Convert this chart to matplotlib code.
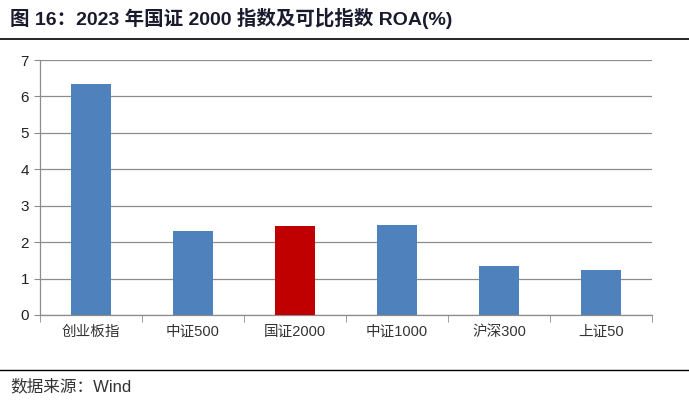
import matplotlib
matplotlib.use("Agg")
import matplotlib.pyplot as plt
from matplotlib.lines import Line2D
import numpy as np

categories = ["创业板指", "中证500", "国证2000", "中证1000", "沪深300", "上证50"]
roa = [6.35, 2.31, 2.45, 2.47, 1.35, 1.24]
colors = ["#4F81BD", "#4F81BD", "#C00000", "#4F81BD", "#4F81BD", "#4F81BD"]
yticks = [0, 1, 2, 3, 4, 5, 6, 7]
title = "图 16：2023 年国证 2000 指数及可比指数 ROA(%)"
source = "数据来源：Wind"

mixed = ["Liberation Sans", "Noto Sans CJK SC", "DejaVu Sans"]
fig = plt.figure(figsize=(6.89, 4.01), dpi=100)
ax = fig.add_axes([40/689, 86/401, 612/689, 255/401])

x = np.arange(len(categories))
ax.bar(x, roa, width=0.4, color=colors, zorder=3)
ax.set_xlim(-0.5, len(categories) - 0.5)
ax.set_ylim(0, 7)
ax.set_yticks(yticks)
ax.set_yticklabels([str(v) for v in yticks], fontsize=11, family="Liberation Sans", color="#222222")
ax.yaxis.grid(True, color="#8c8c8c", linewidth=0.9, zorder=0)
ax.tick_params(axis="y", length=4, color="#8c8c8c", pad=4)

ax.set_xticks(x)
ax.set_xticklabels(categories, fontsize=10.5, family=mixed, color="#333333")
ax.tick_params(axis="x", length=0, pad=7)
ax.set_xticks(np.arange(-0.5, len(categories)), minor=True)
ax.tick_params(axis="x", which="minor", length=5, color="#8c8c8c")

for s in ["top", "right"]:
    ax.spines[s].set_visible(False)
for s in ["left", "bottom"]:
    ax.spines[s].set_color("#8c8c8c")
    ax.spines[s].set_linewidth(0.9)

fig.text(10/689, 1 - 18/401, title, fontsize=14, fontweight="bold", family=mixed,
         color="#1a1a2e", va="center", ha="left")
fig.add_artist(Line2D([0, 1], [1 - 39/401, 1 - 39/401], color="black", linewidth=1.2))
fig.add_artist(Line2D([0, 1], [1 - 370/401, 1 - 370/401], color="black", linewidth=1.0))
fig.text(10/689, 1 - 386/401, source, fontsize=12, family=mixed, color="#333333",
         va="center", ha="left")

fig.savefig("out.png", dpi=100)
